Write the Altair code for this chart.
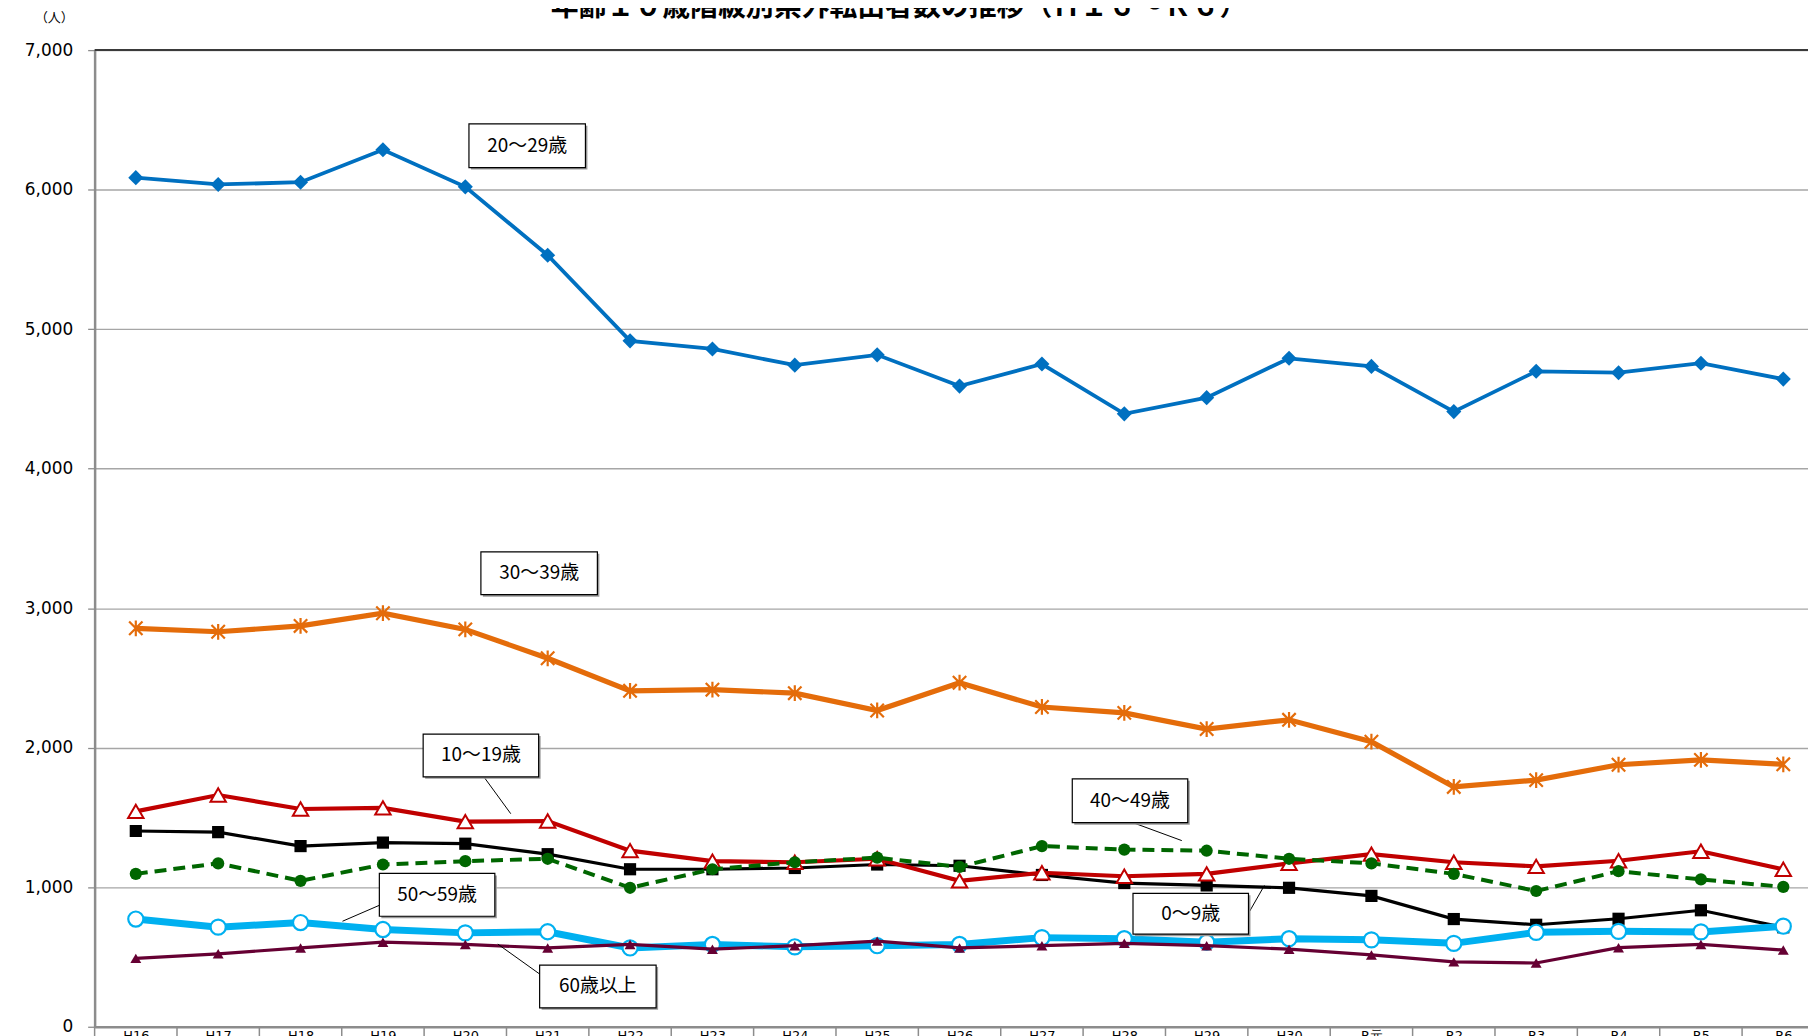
import altair as alt
import pandas as pd

# ---------------- data ----------------
years = ["H16", "H17", "H18", "H19", "H20", "H21", "H22", "H23", "H24", "H25",
         "H26", "H27", "H28", "H29", "H30", "R元", "R2", "R3", "R4", "R5", "R6"]

age_0_9 = [1403, 1395, 1295, 1320, 1312, 1237, 1129, 1129, 1138, 1163, 1154,
           1088, 1030, 1013, 996, 938, 772, 731, 774, 835, 713]
age_10_19 = [1544, 1661, 1561, 1569, 1470, 1475, 1262, 1187, 1179, 1204, 1046,
             1104, 1079, 1096, 1171, 1237, 1179, 1150, 1190, 1258, 1129]
age_20_29 = [6086, 6037, 6053, 6286, 6020, 5530, 4916, 4858, 4742, 4816, 4592,
             4750, 4393, 4509, 4791, 4733, 4409, 4698, 4688, 4756, 4642]
age_30_39 = [2856, 2831, 2873, 2964, 2848, 2641, 2408, 2416, 2391, 2267, 2466,
             2292, 2250, 2134, 2200, 2043, 1719, 1768, 1878, 1913, 1881]
age_40_49 = [1096, 1171, 1046, 1163, 1187, 1204, 996, 1129, 1179, 1212, 1146,
             1295, 1270, 1262, 1204, 1171, 1096, 973, 1115, 1056, 1003]
age_50_59 = [772, 714, 747, 697, 673, 681, 565, 590, 573, 581, 590,
             639, 631, 606, 631, 623, 598, 677, 684, 680, 721]
age_60_up = [490, 523, 565, 606, 590, 565, 590, 556, 581, 614, 565,
             581, 598, 581, 556, 515, 465, 457, 567, 590, 550]

series_names = ["0～9歳", "10～19歳", "20～29歳", "30～39歳", "40～49歳", "50～59歳", "60歳以上"]
series_values = [age_0_9, age_10_19, age_20_29, age_30_39, age_40_49, age_50_59, age_60_up]

title_text = "年齢１０歳階級別県外転出者数の推移（Ｈ１６～Ｒ６）"
y_ticks = [0, 1000, 2000, 3000, 4000, 5000, 6000, 7000]

# ---------------- geometry ----------------
W = 1721
H = 981
TOP = 40

rows = []
for name, vals in zip(series_names, series_values):
    for i, (yr, v) in enumerate(zip(years, vals)):
        rows.append({"idx": i, "year": yr, "series": name, "value": v})
df = pd.DataFrame(rows)

label_expr = "[" + ",".join("'" + y + "'" for y in years) + "][datum.value]"

xs = alt.Scale(domain=[-0.5, 20.3], nice=False, zero=False)
ys = alt.Scale(domain=[0, 7000], nice=False, zero=True)

xaxis = alt.Axis(values=list(range(len(years))), labelExpr=label_expr, grid=False,
                 ticks=False, domain=True, domainColor="#8c8c8c", domainWidth=2.5,
                 labelFont="DejaVu Sans", labelFontSize=13, labelColor="#000000",
                 labelPadding=3, labelBaseline="top", labelOverlap=False,
                 labelFlush=False, title=None)
yaxis = alt.Axis(values=y_ticks, format=",.0f", grid=True, gridColor="#a6a6a6",
                 gridWidth=1.3, tickColor="#8c8c8c", tickSize=7, tickWidth=1.3,
                 domainColor="#8c8c8c", domainWidth=2.5, labelFont="DejaVu Sans",
                 labelFontSize=17, labelColor="#000000", labelPadding=15, title=None)

X = alt.X("idx:Q", scale=xs, axis=xaxis)
Y = alt.Y("value:Q", scale=ys, axis=yaxis)

layers = []

# divider ticks under the category axis
div_df = pd.DataFrame({"b": [i - 0.5 for i in range(len(years) + 1)]})
layers.append(
    alt.Chart(div_df).mark_rule(color="#8c8c8c", strokeWidth=1.5).encode(
        x=alt.X("b:Q", scale=xs, axis=xaxis), y=alt.value(H), y2=alt.value(H + 14)
    )
)

# darker top border line at 7,000
top_df = pd.DataFrame({"value": [7000]})
layers.append(
    alt.Chart(top_df).mark_rule(color="#3a3a3a", strokeWidth=2).encode(
        y=alt.Y("value:Q", scale=ys, axis=yaxis), x=alt.value(0), x2=alt.value(W)
    )
)

styles = {
    "0～9歳": dict(color="#000000", width=3.2, dash=None, shape="square", size=150,
                  fill="#000000", stroke="#000000", sw=0, filled=True),
    "10～19歳": dict(color="#c00000", width=4.2, dash=None, shape="triangle-up", size=240,
                    fill="#ffffff", stroke="#c00000", sw=2, filled=True),
    "20～29歳": dict(color="#0070c0", width=3.8, dash=None, shape="diamond", size=230,
                    fill="#0070c0", stroke="#0070c0", sw=0, filled=True),
    "30～39歳": dict(color="#e46c0a", width=5.2, dash=None,
                    shape="M0,-1L0,1M-0.85,-0.85L0.85,0.85M-0.85,0.85L0.85,-0.85", size=250,
                    fill=None, stroke="#e46c0a", sw=2.2, filled=False),
    "40～49歳": dict(color="#006600", width=4, dash=[12, 7], shape="circle", size=150,
                    fill="#006600", stroke="#006600", sw=0, filled=True),
    "50～59歳": dict(color="#00b0f0", width=7, dash=None, shape="circle", size=230,
                    fill="#ffffff", stroke="#00b0f0", sw=2.2, filled=True),
    "60歳以上": dict(color="#660033", width=3.2, dash=None, shape="triangle-up", size=120,
                    fill="#660033", stroke="#660033", sw=0, filled=True),
}

for name in series_names:
    st = styles[name]
    sub = df[df["series"] == name]
    line_kwargs = dict(color=st["color"], strokeWidth=st["width"], clip=True)
    if st["dash"]:
        line_kwargs["strokeDash"] = st["dash"]
    layers.append(alt.Chart(sub).mark_line(**line_kwargs).encode(x=X, y=Y))
    pt_kwargs = dict(shape=st["shape"], size=st["size"], filled=st["filled"],
                     stroke=st["stroke"], strokeWidth=st["sw"], opacity=1, clip=True)
    if st["fill"] is not None:
        pt_kwargs["fill"] = st["fill"]
    layers.append(alt.Chart(sub).mark_point(**pt_kwargs).encode(x=X, y=Y))

# ---------------- annotations (pixel positions, relative to plot top-left) ----------------
one = pd.DataFrame({"a": [0]})
dy = 42 - TOP  # keep annotation boxes at the same page position
boxes = [
    ("20～29歳", 376, 493, 72, 116),
    ("30～39歳", 388, 505, 502, 545),
    ("10～19歳", 330, 446, 685, 728),
    ("40～49歳", 982, 1098, 730, 774),
    ("50～59歳", 286, 402, 825, 868),
    ("0～9歳", 1043, 1159, 845, 886),
    ("60歳以上", 447, 564, 917, 960),
]
leaders = [
    (391, 728, 418, 765),
    (1043, 774, 1092, 792),
    (286, 857, 249, 873),
    (1159, 865, 1175, 837),
    (447, 926, 405, 896),
]
for (x1, y1, x2, y2) in leaders:
    layers.append(alt.Chart(one).mark_rule(color="#000000", strokeWidth=1).encode(
        x=alt.value(x1), y=alt.value(y1 + dy), x2=alt.value(x2), y2=alt.value(y2 + dy)))
for (lab, x1, x2, y1, y2) in boxes:
    layers.append(alt.Chart(one).mark_rect(color="#9a9a9a").encode(
        x=alt.value(x1 + 2), x2=alt.value(x2 + 2), y=alt.value(y1 + dy + 2), y2=alt.value(y2 + dy + 2)))
    layers.append(alt.Chart(one).mark_rect(fill="#ffffff", stroke="#000000", strokeWidth=1.2).encode(
        x=alt.value(x1), x2=alt.value(x2), y=alt.value(y1 + dy), y2=alt.value(y2 + dy)))
    layers.append(alt.Chart(one).mark_text(font="Noto Sans CJK JP", fontSize=19, color="#000000",
                                           align="center", baseline="middle").encode(
        x=alt.value((x1 + x2) / 2), y=alt.value((y1 + y2) / 2 + dy), text=alt.value(lab)))

# unit label and (cut-off) title
layers.append(alt.Chart(one).mark_text(font="Noto Sans CJK JP", fontSize=13, color="#000000",
                                       align="right", baseline="middle").encode(
    x=alt.value(-21), y=alt.value(-32), text=alt.value("（人）")))
layers.append(alt.Chart(one).mark_text(font="Noto Sans CJK JP", fontSize=28, fontWeight="bold",
                                       color="#000000", align="center",
                                       baseline="alphabetic").encode(
    x=alt.value(808), y=alt.value(-34), text=alt.value(title_text)))

chart = alt.layer(*layers).properties(
    width=W, height=H,
    autosize=alt.AutoSizeParams(type="none"),
    padding={"left": 87, "top": TOP, "right": 0, "bottom": 12},
    background="#ffffff",
).configure_view(stroke=None)

chart.save("out.html", embed_options={"renderer": "svg", "actions": False})
